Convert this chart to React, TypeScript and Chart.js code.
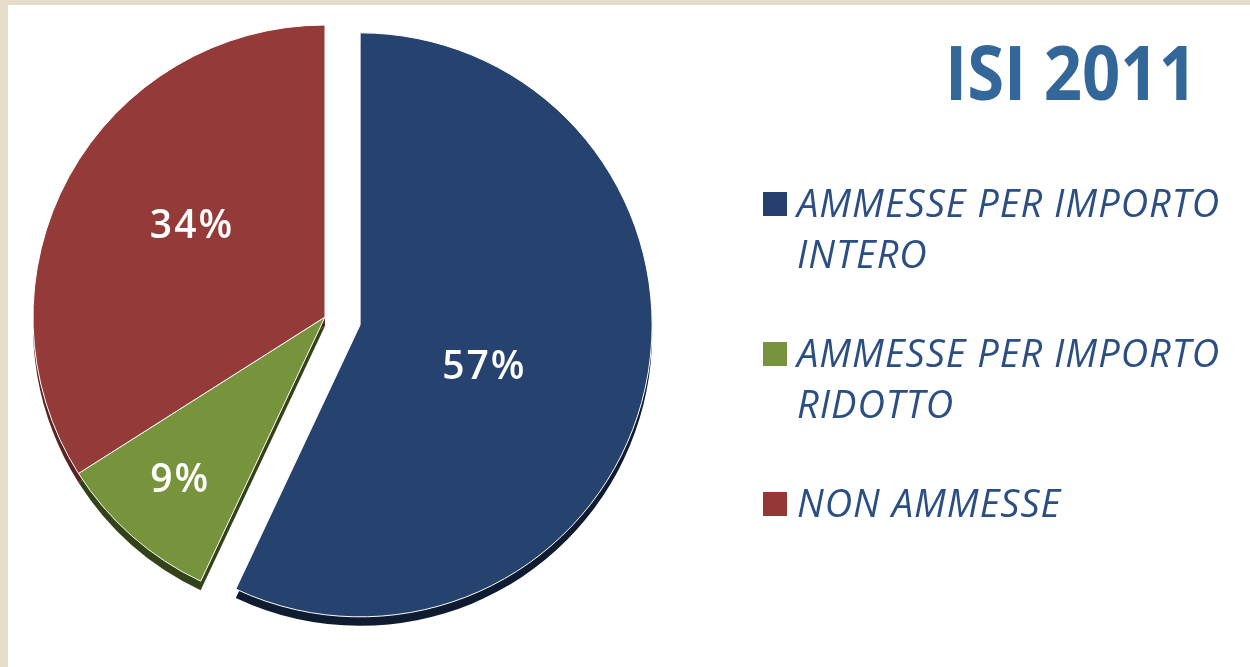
import React, { useEffect, useRef } from 'react';
import { Chart, registerables } from 'chart.js';

Chart.register(...registerables);

// ---- data ----
const categories = ['AMMESSE PER IMPORTO INTERO', 'AMMESSE PER IMPORTO RIDOTTO', 'NON AMMESSE'];
const shares = [57, 9, 34];
const titleText = 'ISI 2011';

// ---- styles ----
const sliceColors = ['#26426E', '#77933C', '#943A38'];
const sideColors = ['#0F1B31', '#34421A', '#5C2220'];
const legendColors = ['#243F6B', '#77933C', '#953735'];
const explode = [36, 0, 0];
const labelRadius = [0.45, 0.75, 0.55];
const labelAngleShift = [6.5, 0, 5.3];
const SIDE_DEPTH = 9;

const W = 1242;
const H = 662;

const overlayPlugin = {
  id: 'overlayPlugin',
  afterDatasetUpdate(chart: any, args: any) {
    const meta = args.meta;
    meta.data.forEach((arc: any, i: number) => {
      const mid = (arc.startAngle + arc.endAngle) / 2;
      const e = explode[i] || 0;
      arc.x += Math.cos(mid) * e;
      arc.y += Math.sin(mid) * e;
    });
  },
  beforeDatasetsDraw(chart: any) {
    const ctx = chart.ctx;
    const meta = chart.getDatasetMeta(0);
    ctx.save();
    meta.data.forEach((arc: any, i: number) => {
      const cx = arc.x;
      const cy = arc.y + SIDE_DEPTH;
      ctx.beginPath();
      ctx.moveTo(cx, cy);
      ctx.arc(cx, cy, arc.outerRadius, arc.startAngle, arc.endAngle);
      ctx.closePath();
      ctx.fillStyle = sideColors[i];
      ctx.fill();
    });
    ctx.restore();
  },
  afterDatasetsDraw(chart: any) {
    const ctx = chart.ctx;
    const meta = chart.getDatasetMeta(0);
    const values = chart.data.datasets[0].data as number[];
    ctx.save();
    ctx.fillStyle = '#ffffff';
    ctx.font = '600 39px "Open Sans", sans-serif';
    (ctx as any).letterSpacing = '2px';
    ctx.textAlign = 'center';
    ctx.textBaseline = 'middle';
    meta.data.forEach((arc: any, i: number) => {
      const mid = (arc.startAngle + arc.endAngle) / 2 + (labelAngleShift[i] * Math.PI) / 180;
      const r = arc.outerRadius * labelRadius[i];
      ctx.fillText(values[i] + '%', arc.x + Math.cos(mid) * r, arc.y + Math.sin(mid) * r);
    });
    ctx.restore();
  },
  afterDraw(chart: any) {
    const ctx = chart.ctx;
    ctx.save();
    // title
    ctx.fillStyle = '#336699';
    ctx.font = 'bold 76px "Open Sans", sans-serif';
    ctx.textAlign = 'left';
    ctx.textBaseline = 'alphabetic';
    ctx.fillText(titleText, 937, 95, 252);

    // legend
    const labels = chart.data.labels as string[];
    ctx.font = 'italic 500 38px "Open Sans", sans-serif';
    (ctx as any).letterSpacing = '1px';
    const lineH = 51;
    const itemGap = 48;
    const maxW = 450;
    let baseline = 212;
    labels.forEach((label, i) => {
      const words = label.split(' ');
      const lines: string[] = [];
      let cur = '';
      words.forEach((w) => {
        const test = cur ? cur + ' ' + w : w;
        if (ctx.measureText(test).width > maxW && cur) {
          lines.push(cur);
          cur = w;
        } else {
          cur = test;
        }
      });
      if (cur) lines.push(cur);
      ctx.fillStyle = legendColors[i];
      ctx.fillRect(755, baseline - 25, 24, 24);
      ctx.fillStyle = '#2B4E83';
      lines.forEach((ln, j) => {
        ctx.fillText(ln, 789, baseline + j * lineH);
      });
      baseline += lines.length * lineH + itemGap;
    });
    ctx.restore();
  },
};

export default function App() {
  const ref = useRef<HTMLCanvasElement | null>(null);
  useEffect(() => {
    if (!ref.current) return;
    const chart = new Chart(ref.current, {
      type: 'pie',
      data: {
        labels: categories,
        datasets: [
          {
            data: shares,
            backgroundColor: sliceColors,
            borderColor: '#ffffff',
            borderWidth: 1,
            clip: false as any,
          },
        ],
      },
      options: {
        responsive: false,
        animation: false,
        radius: 292,
        layout: { padding: { left: 0, top: 2, right: W - 634, bottom: H - 622 } },
        plugins: {
          legend: { display: false },
          tooltip: { enabled: false },
          title: { display: false },
        },
      } as any,
      plugins: [overlayPlugin],
    });
    return () => chart.destroy();
  }, []);
  return (
    <div
      style={{
        position: 'fixed',
        left: 0,
        top: 0,
        width: 1250,
        height: 667,
        background: '#E5DDC7',
        overflow: 'hidden',
      }}
    >
      <canvas
        ref={ref}
        width={W}
        height={H}
        style={{ position: 'absolute', left: 8, top: 5, width: W, height: H, background: '#ffffff' }}
      />
    </div>
  );
}
